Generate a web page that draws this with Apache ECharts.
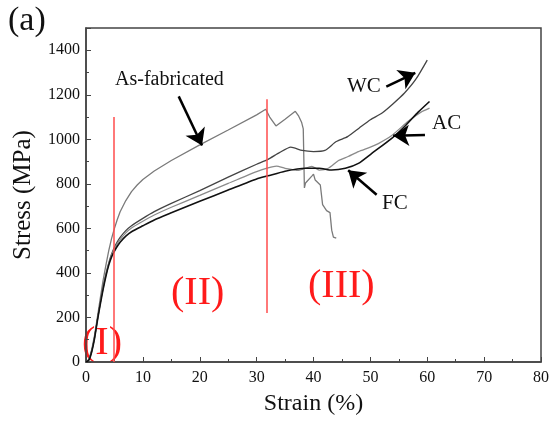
<!DOCTYPE html>
<html>
<head>
<meta charset="utf-8">
<script src="https://cdn.jsdelivr.net/npm/echarts@6/dist/echarts.min.js"></script>
<style>
html, body { margin: 0; padding: 0; background: #fff; }
#chart { width: 552px; height: 421px; }
</style>
</head>
<body>
<div id="chart"></div>
<script>
// strain (%) / stress (MPa)
var asFabStrain = [0, 0.5, 1, 1.5, 2, 2.5, 3, 3.5, 4, 4.5, 5, 5.5, 6, 7, 8, 9, 10, 12, 15, 20, 25, 30, 31.6, 32.3, 33.4, 35, 36.8, 37.4, 37.9, 38.2, 38.4, 38.4, 38.6, 39.7, 40, 40.3, 41.2, 41.6, 42.3, 42.9, 43.2, 43.5, 44];
var asFabStress = [0, 12, 55, 120, 200, 285, 365, 435, 500, 555, 600, 640, 675, 725, 765, 795, 820, 858, 905, 975, 1042, 1110, 1135, 1100, 1060, 1090, 1126, 1104, 1077, 1047, 1040, 782, 804, 835, 844, 817, 795, 707, 680, 671, 592, 561, 556];

var wcStrain = [0, 0.5, 1, 1.5, 2, 2.5, 3, 3.5, 4, 4.5, 5, 5.5, 6, 7, 8, 10, 12, 15, 20, 25, 30, 32, 34, 36, 38, 40, 42, 44, 46, 48, 50, 52, 54, 56, 58, 60];
var wcStress = [0, 10, 50, 110, 190, 265, 335, 395, 445, 485, 515, 540, 560, 590, 612, 645, 675, 712, 770, 830, 888, 910, 940, 965, 950, 945, 950, 990, 1012, 1050, 1088, 1117, 1160, 1208, 1270, 1356];

var acStrain = [0, 0.5, 1, 1.5, 2, 2.5, 3, 3.5, 4, 4.5, 5, 5.5, 6, 7, 8, 10, 12, 15, 20, 25, 30, 32, 33.5, 35, 37.4, 39.7, 41, 42.6, 44.4, 46.1, 47.9, 50, 51.4, 53.7, 56.7, 58.9, 60.4];
var acStress = [0, 10, 48, 108, 188, 262, 330, 390, 440, 480, 508, 532, 550, 580, 602, 632, 660, 695, 748, 802, 855, 872, 880, 870, 861, 879, 862, 870, 905, 923, 945, 965, 981, 1016, 1082, 1122, 1140];

var fcStrain = [0, 0.5, 1, 1.5, 2, 2.5, 3, 3.5, 4, 4.5, 5, 5.5, 6, 7, 8, 10, 12, 15, 20, 25, 30, 32, 35, 38.6, 41, 43.2, 45.6, 47.9, 50.2, 53.7, 56.1, 58.4, 60.4];
var fcStress = [0, 8, 45, 105, 185, 258, 325, 385, 435, 472, 498, 520, 538, 565, 585, 612, 638, 670, 722, 772, 822, 836, 857, 870, 870, 862, 870, 892, 936, 1003, 1060, 1122, 1170];

var xTicks = [0, 10, 20, 30, 40, 50, 60, 70, 80];
var yTicks = [0, 200, 400, 600, 800, 1000, 1200, 1400];

// stage boundaries (strain, from stress, to stress)
var boundaryStrain = [4.8, 31.8];
var boundaryFrom = [0, 220];
var boundaryTo = [1100, 1180];

function pairs(xs, ys) {
	var out = [];
	for (var i = 0; i < xs.length; i++) {
		out.push([xs[i], ys[i]]);
	}
	return out;
}

var serif = 'Liberation Serif';
var myChart = echarts.init(document.getElementById('chart'));

function curve(name, xs, ys, color, width, smooth) {
	return {
		name : name,
		type : 'line',
		data : pairs(xs, ys),
		showSymbol : false,
		smooth : smooth,
		lineStyle : { color : color, width : width },
		z : 3
	};
}

var redLines = [];
for (var i = 0; i < boundaryStrain.length; i++) {
	redLines.push([ { coord : [boundaryStrain[i], boundaryFrom[i]] }, { coord : [boundaryStrain[i], boundaryTo[i]] } ]);
}

var arrows = [
	[ { coord : [16.3, 1193] }, { coord : [20.4, 972] } ],
	[ { coord : [52.8, 1237] }, { coord : [57.9, 1299] } ],
	[ { coord : [59.6, 1020] }, { coord : [54.0, 1016] } ],
	[ { coord : [51.1, 751] }, { coord : [46.1, 861] } ]
];

var option = {
	animation : false,
	grid : {
		left : 86,
		right : 9,
		top : 28,
		bottom : 54,
		show : true,
		borderColor : '#444',
		borderWidth : 1.5
	},
	xAxis : {
		type : 'value',
		min : 0,
		max : 80,
		interval : 10,
		name : 'Strain (%)',
		nameLocation : 'middle',
		nameGap : 30,
		nameTextStyle : { fontFamily : serif, fontSize : 24, color : '#111' },
		axisLine : { lineStyle : { color : '#444', width : 1.5 } },
		axisTick : { inside : true, length : 5, lineStyle : { color : '#444' } },
		minorTick : { show : true, splitNumber : 2, length : 3, lineStyle : { color : '#444' } },
		axisLabel : {
			fontFamily : serif, fontSize : 16, color : '#111', margin : 8,
			formatter : function (v) { return xTicks.indexOf(v) >= 0 ? String(v) : ''; }
		},
		splitLine : { show : false }
	},
	yAxis : {
		type : 'value',
		min : 0,
		max : 1500,
		interval : 200,
		name : 'Stress (MPa)',
		nameLocation : 'middle',
		nameGap : 50,
		nameTextStyle : { fontFamily : serif, fontSize : 25, color : '#111' },
		axisLine : { show : true, lineStyle : { color : '#444', width : 1.5 } },
		axisTick : { inside : true, length : 5, lineStyle : { color : '#444' } },
		minorTick : { show : true, splitNumber : 2, length : 3, lineStyle : { color : '#444' } },
		axisLabel : {
			fontFamily : serif, fontSize : 16, color : '#111', margin : 6,
			showMaxLabel : false,
			formatter : function (v) { return yTicks.indexOf(v) >= 0 ? String(v) : ''; }
		},
		splitLine : { show : false }
	},
	series : [
		curve('As-fabricated', asFabStrain, asFabStress, '#7a7a7a', 1.3, false),
		curve('WC', wcStrain, wcStress, '#444', 1.3, 0.2),
		curve('AC', acStrain, acStress, '#8a8a8a', 1.3, 0.2),
		curve('FC', fcStrain, fcStress, '#111', 1.6, 0.2),
		{
			name : 'marks',
			type : 'line',
			data : [],
			markLine : {
				silent : true,
				symbol : ['none', 'none'],
				label : { show : false },
				lineStyle : { color : '#ff4d4d', width : 1.5, type : 'solid' },
				data : redLines
			}
		},
		{
			name : 'arrows',
			type : 'line',
			data : [],
			markLine : {
				silent : true,
				symbol : ['none', 'arrow'],
				symbolSize : 16,
				label : { show : false },
				itemStyle : { color : '#000' },
				lineStyle : { color : '#000', width : 2.5, type : 'solid' },
				data : arrows
			}
		}
	],
	graphic : [
		{ type : 'text', left : 8, top : 4, style : { text : '(a)', font : '34px "Liberation Serif"', fill : '#111' } },
		{ type : 'text', left : 115, top : 70, style : { text : 'As-fabricated', font : '20px "Liberation Serif"', fill : '#111' } },
		{ type : 'text', left : 347, top : 76, style : { text : 'WC', font : '21px "Liberation Serif"', fill : '#111' } },
		{ type : 'text', left : 432, top : 113, style : { text : 'AC', font : '21px "Liberation Serif"', fill : '#111' } },
		{ type : 'text', left : 382, top : 193, style : { text : 'FC', font : '21px "Liberation Serif"', fill : '#111' } },
		{ type : 'text', left : 82, top : 323, style : { text : '(I)', font : '40px "Liberation Serif"', fill : '#ff1a1a' } },
		{ type : 'text', left : 171, top : 273, style : { text : '(II)', font : '40px "Liberation Serif"', fill : '#ff1a1a' } },
		{ type : 'text', left : 308, top : 266, style : { text : '(III)', font : '40px "Liberation Serif"', fill : '#ff1a1a' } }
	]
};

myChart.setOption(option);
</script>
</body>
</html>
